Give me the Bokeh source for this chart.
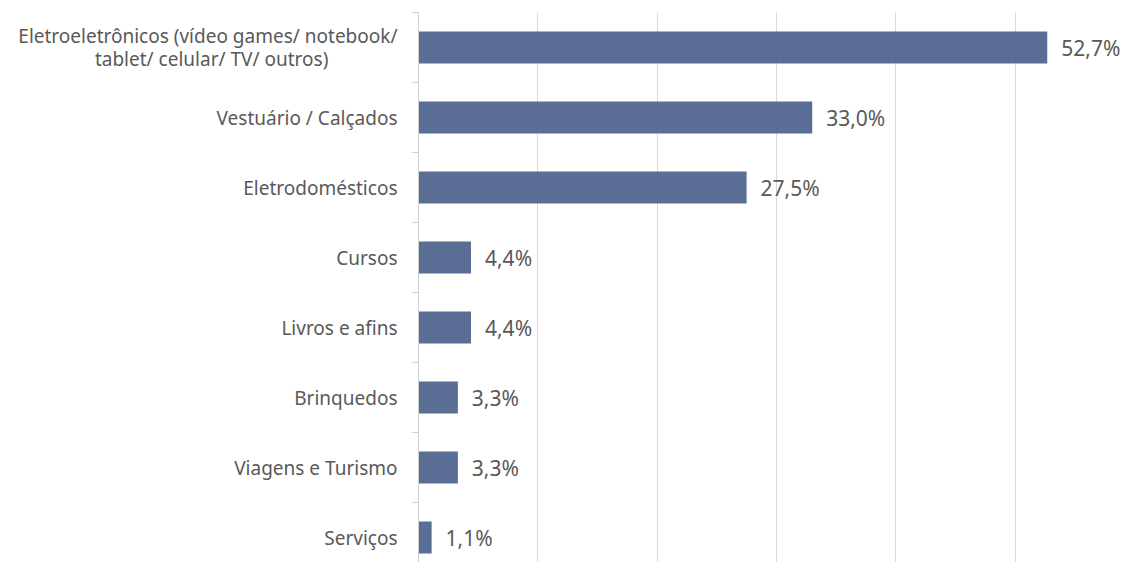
from bokeh.plotting import figure
from bokeh.models import ColumnDataSource, Range1d, FixedTicker, LabelSet
from bokeh.core.properties import value
from bokeh.embed import file_html
from bokeh.resources import INLINE

NBSP = "\u00a0"
categories = [
    "Eletroeletrônicos (vídeo games/ notebook/\ntablet/ celular/ TV/ outros)" + NBSP * 14,
    "Vestuário / Calçados",
    "Eletrodomésticos",
    "Cursos",
    "Livros e afins",
    "Brinquedos",
    "Viagens e Turismo",
    "Serviços",
]
values = [52.7, 33.0, 27.5, 4.4, 4.4, 3.3, 3.3, 1.1]
value_labels = ["52,7%", "33,0%", "27,5%", "4,4%", "4,4%", "3,3%", "3,3%", "1,1%"]
x_grid_ticks = [10, 20, 30, 40, 50]

n = len(categories)
ypos = [n - 0.5 - i for i in range(n)]

src = ColumnDataSource(dict(y=ypos, v=values, lab=value_labels))

FONT = "Noto Sans"
GREY = "#595959"

p = figure(width=1120, height=562, output_backend="svg", toolbar_location=None,
           x_range=Range1d(0, 58.84), y_range=Range1d(0.143, n),
           x_axis_location=None, min_border_left=418, min_border_right=0,
           min_border_top=12, min_border_bottom=0)
p.outline_line_color = None
p.background_fill_color = "white"

p.hbar(y="y", left=0, right="v", height=0.46, source=src,
       fill_color="#51658f", fill_alpha=0.95, line_color=None)

p.add_layout(LabelSet(x="v", y="y", text="lab", source=src, x_offset=14,
                      text_baseline="middle", text_font=value(FONT),
                      text_font_size="21px", text_color=GREY))

p.xgrid.ticker = FixedTicker(ticks=x_grid_ticks)
p.xgrid.grid_line_color = "#d9d9d9"
p.ygrid.grid_line_color = None

ya = p.yaxis[0]
ya.ticker = FixedTicker(ticks=ypos, minor_ticks=list(range(n + 1)))
ya.major_label_overrides = {y: c for y, c in zip(ypos, categories)}
ya.major_tick_line_color = None
ya.minor_tick_in = 0
ya.minor_tick_out = 6
ya.minor_tick_line_color = "#d0d0d0"
ya.axis_line_color = "#d0d0d0"
ya.major_label_standoff = 15
ya.major_label_text_font = FONT
ya.major_label_text_font_size = "19px"
ya.major_label_text_color = GREY
ya.major_label_text_line_height = 0.89

open("out.html", "w").write(file_html(p, INLINE))
